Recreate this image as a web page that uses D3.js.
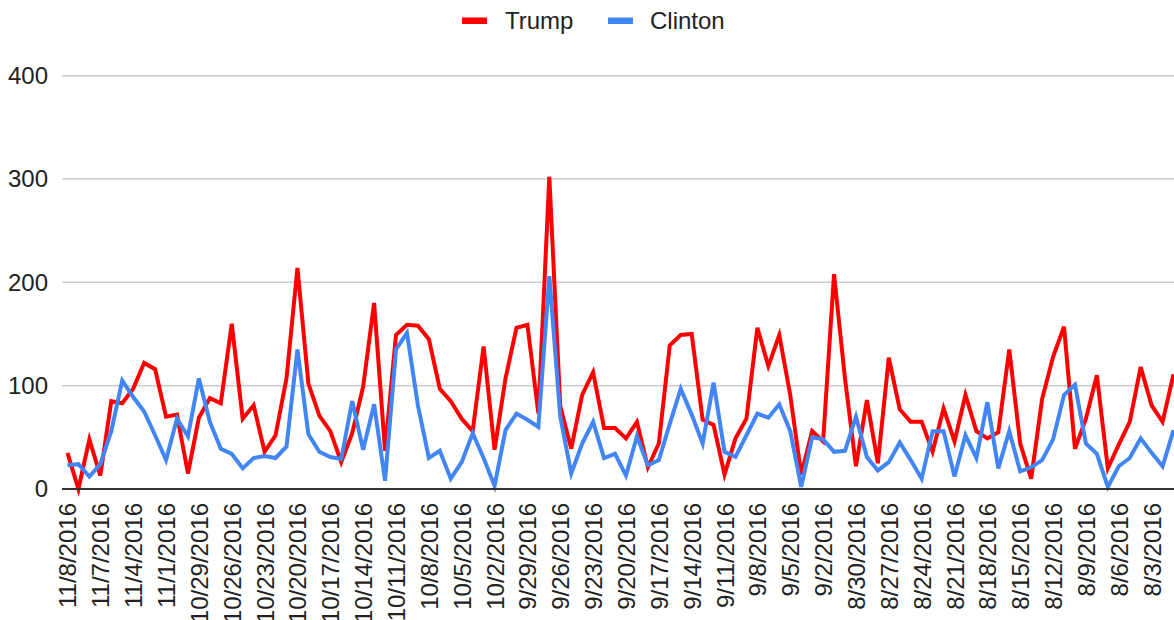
<!DOCTYPE html>
<html>
<head>
<meta charset="utf-8">
<script src="https://cdn.jsdelivr.net/npm/d3@7/dist/d3.min.js"></script>
<style>
  html, body { margin: 0; padding: 0; background: #fff; }
  svg { display: block; font-family: "Liberation Sans", Arial, sans-serif; }
</style>
</head>
<body>
<svg id="chart" width="1174" height="620"></svg>
<script>
// Daily mention counts, newest first
const dates = [
  "11/8/2016","11/8/2016","11/8/2016","11/7/2016","11/6/2016","11/5/2016","11/4/2016","11/3/2016","11/2/2016","11/1/2016",
  "10/31/2016","10/30/2016","10/29/2016","10/28/2016","10/27/2016","10/26/2016","10/25/2016","10/24/2016","10/23/2016","10/22/2016",
  "10/21/2016","10/20/2016","10/19/2016","10/18/2016","10/17/2016","10/16/2016","10/15/2016","10/14/2016","10/13/2016","10/12/2016",
  "10/11/2016","10/10/2016","10/9/2016","10/8/2016","10/7/2016","10/6/2016","10/5/2016","10/4/2016","10/3/2016","10/2/2016",
  "10/1/2016","9/30/2016","9/29/2016","9/28/2016","9/27/2016","9/26/2016","9/25/2016","9/24/2016","9/23/2016","9/22/2016",
  "9/21/2016","9/20/2016","9/19/2016","9/18/2016","9/17/2016","9/16/2016","9/15/2016","9/14/2016","9/13/2016","9/12/2016",
  "9/11/2016","9/10/2016","9/9/2016","9/8/2016","9/7/2016","9/6/2016","9/5/2016","9/4/2016","9/3/2016","9/2/2016",
  "9/1/2016","8/31/2016","8/30/2016","8/29/2016","8/28/2016","8/27/2016","8/26/2016","8/25/2016","8/24/2016","8/23/2016",
  "8/22/2016","8/21/2016","8/20/2016","8/19/2016","8/18/2016","8/17/2016","8/16/2016","8/15/2016","8/14/2016","8/13/2016",
  "8/12/2016","8/11/2016","8/10/2016","8/9/2016","8/8/2016","8/7/2016","8/6/2016","8/5/2016","8/4/2016","8/3/2016",
  "8/2/2016","8/1/2016"
];

const trump = [
  35, 0, 48, 13, 85, 83, 97, 122, 116, 70,
  72, 15, 69, 88, 83, 160, 68, 81, 36, 52,
  107, 214, 102, 71, 56, 26, 54, 99, 180, 37,
  149, 159, 158, 145, 97, 85, 68, 56, 138, 38,
  107, 156, 159, 73, 302, 80, 39, 91, 113, 59,
  59, 49, 65, 21, 44, 139, 149, 150, 67, 62,
  14, 49, 68, 156, 119, 149, 91, 14, 56, 46,
  208, 107, 22, 86, 25, 127, 77, 65, 65, 36,
  78, 46, 91, 56, 49, 55, 135, 44, 10, 87,
  128, 157, 39, 68, 110, 20, 43, 65, 118, 81,
  65, 111
];

const clinton = [
  23, 24, 12, 24, 56, 105, 89, 75, 52, 28,
  68, 51, 107, 65, 39, 34, 20, 30, 32, 30,
  41, 135, 53, 36, 31, 29, 85, 38, 82, 8,
  135, 151, 81, 30, 37, 10, 26, 54, 30, 3,
  57, 73, 67, 60, 206, 70, 15, 44, 65, 30,
  34, 13, 51, 23, 28, 63, 97, 72, 44, 103,
  36, 31, 52, 73, 69, 82, 56, 2, 50, 48,
  36, 37, 70, 31, 18, 26, 45, 28, 10, 56,
  56, 12, 52, 30, 84, 20, 56, 17, 21, 28,
  48, 91, 101, 44, 34, 2, 22, 30, 49, 35,
  22, 57
];

const yTicks = [0, 100, 200, 300, 400];

const seriesNames = ["Trump", "Clinton"];
const seriesColors = ["#ff0000", "#4285f4"];

const svg = d3.select("#chart");
const W = 1174, H = 620;
const plot = { left: 62, right: 1179, top: 75.7, bottom: 489 };

const idx = d3.range(dates.length);
const x = d3.scalePoint().domain(idx).range([plot.left, plot.right]).padding(0.5);
const y = d3.scaleLinear().domain([0, 400]).range([plot.bottom, plot.top]);

// Horizontal gridlines
svg.append("g")
  .selectAll("line")
  .data(yTicks.filter(d => d !== 0))
  .join("line")
  .attr("x1", plot.left).attr("x2", W)
  .attr("y1", d => y(d)).attr("y2", d => y(d))
  .attr("stroke", "#cccccc").attr("stroke-width", 1.5);

// Y axis labels
const yAxis = d3.axisLeft(y).tickValues(yTicks).tickSize(0).tickPadding(14);
svg.append("g")
  .attr("transform", `translate(${plot.left},0)`)
  .call(yAxis)
  .call(g => g.select(".domain").remove())
  .selectAll("text")
  .attr("font-size", 24)
  .attr("fill", "#222")
  .attr("font-family", "Liberation Sans, Arial, sans-serif");

// Series lines
const line = d3.line().x((d, i) => x(i)).y(d => y(d));
[trump, clinton].forEach((vals, k) => {
  svg.append("path")
    .datum(vals)
    .attr("fill", "none")
    .attr("stroke", seriesColors[k])
    .attr("stroke-width", 4)
    .attr("d", line);
});

// Baseline at zero
svg.append("line")
  .attr("x1", plot.left).attr("x2", W)
  .attr("y1", y(0)).attr("y2", y(0))
  .attr("stroke", "#333").attr("stroke-width", 2);

// X axis labels, every third category, rotated
const xAxis = d3.axisBottom(x)
  .tickValues(idx.filter(i => i % 3 === 0))
  .tickFormat(i => dates[i])
  .tickSize(0);
svg.append("g")
  .attr("transform", `translate(0,${plot.bottom})`)
  .call(xAxis)
  .call(g => g.select(".domain").remove())
  .selectAll("text")
  .attr("font-size", 24)
  .attr("fill", "#222")
  .attr("font-family", "Liberation Sans, Arial, sans-serif")
  .attr("text-anchor", "end")
  .attr("dominant-baseline", "central")
  .attr("transform", "rotate(-90)")
  .attr("x", -14)
  .attr("y", 0)
  .attr("dy", null);

// Legend
const legend = svg.append("g");
const legendItems = [
  { name: seriesNames[0], color: seriesColors[0], sx: 462, tx: 505 },
  { name: seriesNames[1], color: seriesColors[1], sx: 608, tx: 650 }
];
legendItems.forEach(it => {
  legend.append("rect")
    .attr("x", it.sx).attr("y", 17.5)
    .attr("width", 25).attr("height", 6.5)
    .attr("fill", it.color);
  legend.append("text")
    .attr("x", it.tx).attr("y", 29)
    .attr("font-size", 24)
    .attr("fill", "#222")
    .text(it.name);
});
</script>
</body>
</html>
